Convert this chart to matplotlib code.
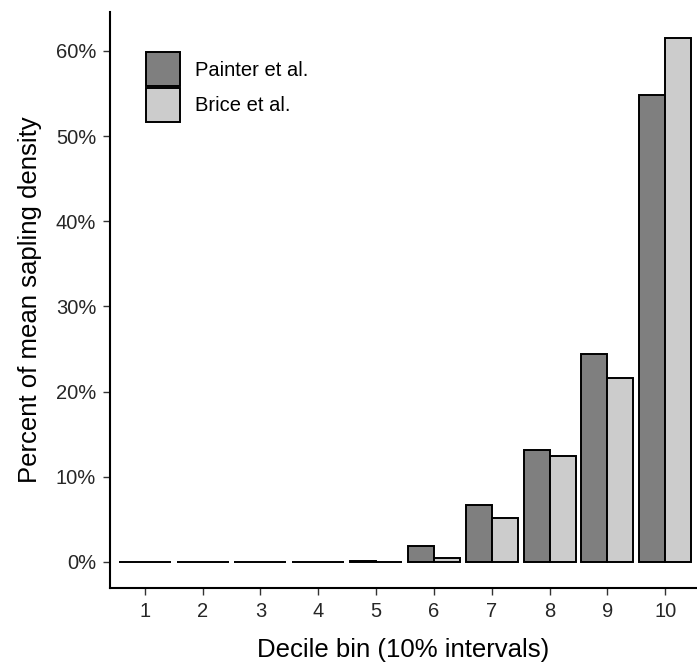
import matplotlib
matplotlib.use("Agg")
import matplotlib.pyplot as plt
import numpy as np
from matplotlib.ticker import FuncFormatter

plt.rcParams['font.family'] = ['Liberation Sans', 'DejaVu Sans']

# data
deciles = [1, 2, 3, 4, 5, 6, 7, 8, 9, 10]
painter = [0, 0, 0, 0, 0.15, 1.9, 6.7, 13.1, 24.4, 54.8]
brice = [0, 0, 0, 0, 0, 0.4, 5.1, 12.4, 21.6, 61.5]
series_names = ['Painter et al.', 'Brice et al.']
series_colors = ['#7f7f7f', '#cccccc']
y_ticks = [0, 10, 20, 30, 40, 50, 60]

W, H = 697, 667
fig = plt.figure(figsize=(W / 100, H / 100), dpi=100)
ax = fig.add_axes([110 / W, 1 - 588 / H, (W - 110) / W, (588 - 12) / H])

x = np.array(deciles)
w = 0.45
for i, (vals, name, col) in enumerate(zip([painter, brice], series_names, series_colors)):
    ax.bar(x - w / 2 + i * w, vals, width=w, color=col, edgecolor='black',
           linewidth=1.4, label=name)

top = max(max(painter), max(brice))
ax.set_xlim(0.4, 10.55)
ax.set_ylim(-0.05 * top, top * 1.05)
ax.set_xticks(deciles)
ax.set_yticks(y_ticks)
ax.yaxis.set_major_formatter(FuncFormatter(lambda v, p: f'{v:.0f}%'))

for s in ['top', 'right']:
    ax.spines[s].set_visible(False)
for s in ['left', 'bottom']:
    ax.spines[s].set_linewidth(1.5)
ax.tick_params(axis='both', length=5, width=1.0, color='#333333',
               labelsize=14.5, labelcolor='#262626', pad=5)

ax.set_xlabel('Decile bin (10% intervals)', fontsize=18.5, labelpad=12)
ax.set_ylabel('Percent of mean sapling density', fontsize=18.5, labelpad=10)

# legend keys are square, stacked almost touching
leg = ax.legend(loc='upper left', bbox_to_anchor=(0.061, 0.93), frameon=False,
                fontsize=14.5, handlelength=1.7, handleheight=2.22,
                labelspacing=0.08, handletextpad=0.75, borderaxespad=0,
                borderpad=0)

fig.savefig('out.png', dpi=100)
